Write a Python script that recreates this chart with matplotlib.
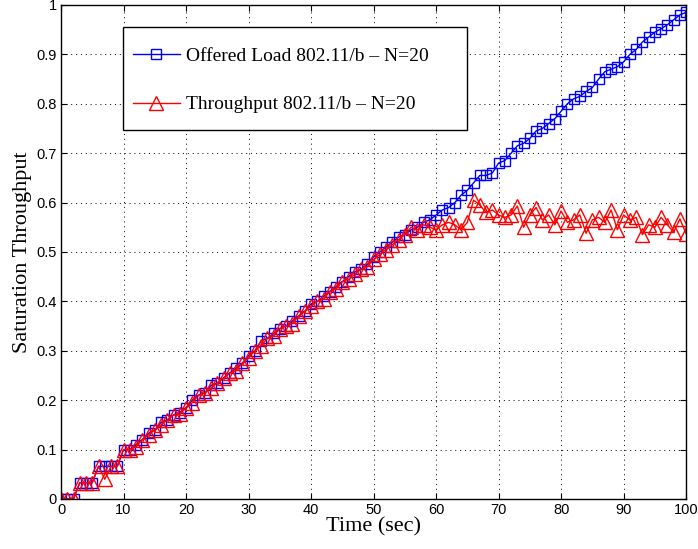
import matplotlib
matplotlib.use('Agg')
import matplotlib.pyplot as plt
from matplotlib.patches import Rectangle
import numpy as np

# time axis (sec)
time_sec = list(range(0, 101))

offered_load = [
    0.0, 0.0, 0.0, 0.033, 0.033, 0.033, 0.066, 0.066, 0.066, 0.066,
    0.1, 0.1, 0.11, 0.12, 0.133, 0.14, 0.155, 0.16, 0.17, 0.175,
    0.185, 0.2, 0.21, 0.215, 0.23, 0.235, 0.245, 0.255, 0.265, 0.275,
    0.29, 0.3, 0.32, 0.325, 0.335, 0.345, 0.35, 0.36, 0.37, 0.38,
    0.395, 0.4, 0.41, 0.42, 0.43, 0.44, 0.45, 0.46, 0.465, 0.475,
    0.49, 0.5, 0.51, 0.52, 0.53, 0.535, 0.545, 0.55, 0.56, 0.565,
    0.575, 0.585, 0.59, 0.6, 0.615, 0.625, 0.64, 0.655, 0.655, 0.66,
    0.68, 0.685, 0.7, 0.715, 0.72, 0.73, 0.745, 0.75, 0.76, 0.77,
    0.785, 0.8, 0.81, 0.815, 0.825, 0.833, 0.85, 0.865, 0.87, 0.875,
    0.885, 0.9, 0.91, 0.925, 0.935, 0.945, 0.952, 0.96, 0.97, 0.98,
    0.985,
]

throughput = [
    0.0, 0.0, 0.0, 0.033, 0.033, 0.033, 0.066, 0.04, 0.066, 0.066,
    0.1, 0.1, 0.105, 0.12, 0.13, 0.14, 0.15, 0.16, 0.17, 0.172,
    0.185, 0.195, 0.21, 0.215, 0.225, 0.235, 0.245, 0.255, 0.26, 0.275,
    0.285, 0.3, 0.31, 0.325, 0.33, 0.345, 0.35, 0.355, 0.37, 0.38,
    0.39, 0.4, 0.405, 0.42, 0.425, 0.44, 0.445, 0.455, 0.465, 0.47,
    0.485, 0.495, 0.505, 0.515, 0.525, 0.535, 0.55, 0.545, 0.555, 0.55,
    0.545, 0.555, 0.56, 0.555, 0.545, 0.56, 0.605, 0.595, 0.58, 0.585,
    0.575, 0.57, 0.575, 0.593, 0.55, 0.575, 0.59, 0.565, 0.575, 0.555,
    0.583, 0.56, 0.565, 0.575, 0.538, 0.565, 0.57, 0.56, 0.585, 0.545,
    0.575, 0.565, 0.57, 0.535, 0.555, 0.55, 0.57, 0.555, 0.54, 0.567,
    0.537,
]

x_ticks = np.arange(0, 101, 10)
y_ticks = np.round(np.arange(0, 1.01, 0.1), 1)
y_tick_labels = ['0', '0.1', '0.2', '0.3', '0.4', '0.5', '0.6', '0.7', '0.8', '0.9', '1']

fig = plt.figure(figsize=(6.98, 5.49), dpi=100)
ax = fig.add_axes([0.0874, 0.0911, 0.8956, 0.8998])

ax.plot(time_sec, offered_load, color='#0000ff', marker='s', markersize=7,
        markerfacecolor='none', linewidth=1, markeredgewidth=1,
        label='Offered Load 802.11/b \u2013 N=20')
ax.plot(time_sec, throughput, color='#ff0000', marker='^', markersize=10,
        markerfacecolor='none', linewidth=1, markeredgewidth=1,
        label='Throughput 802.11/b \u2013 N=20')

ax.set_xlim(0, 100)
ax.set_ylim(0, 1)
ax.set_xticks(x_ticks)
ax.set_yticks(y_ticks)
ax.set_xticklabels([str(t) for t in x_ticks], fontfamily='Liberation Sans', fontsize=10.5)
ax.set_yticklabels(y_tick_labels, fontfamily='Liberation Sans', fontsize=10.5)
ax.tick_params(direction='in', top=True, right=True, length=4, width=0.8, pad=3)
ax.grid(True, linestyle=(0, (1, 4)), color='black', linewidth=0.7)

ax.set_xlabel('Time (sec)', fontfamily='Liberation Serif', fontsize=16, labelpad=0)
ax.set_ylabel('Saturation Throughput', fontfamily='Liberation Serif', fontsize=16, labelpad=3)

for s in ax.spines.values():
    s.set_linewidth(1)

# MATLAB style legend box drawn by hand, entries placed inside it
ax.add_patch(Rectangle((0.0992, 0.747), 0.5504, 0.208, transform=ax.transAxes,
                       facecolor='white', edgecolor='black', linewidth=1, zorder=4))
leg = ax.legend(loc='upper left', bbox_to_anchor=(0.1152, 0.915), frameon=False,
                handlelength=2.4, labelspacing=1.6, borderpad=0, borderaxespad=0,
                handletextpad=0.3, prop={'family': 'Liberation Serif', 'size': 14})
leg.set_zorder(5)

fig.savefig('out.png', dpi=100)
